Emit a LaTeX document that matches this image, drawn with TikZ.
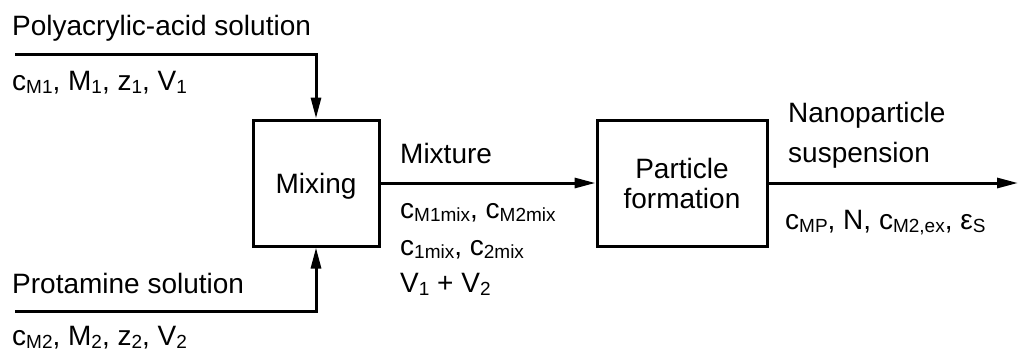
\documentclass[tikz,border=0pt]{standalone}
\usepackage{fontspec}
\setmainfont{Liberation Sans}
\usetikzlibrary{arrows.meta, positioning}

% lowered, smaller index as in the printed labels
\newcommand{\idx}[1]{\raisebox{-3.5pt}{\fontsize{19}{19}\selectfont #1}}

\begin{document}
\begin{tikzpicture}[
  x=1pt, y=-1pt,
  blk/.style={draw, line width=3pt, minimum width=126pt, minimum height=126pt,
              inner sep=0pt, align=center, text depth=0pt,
              font=\fontsize{28}{30}\selectfont},
  txt/.style={anchor=base west, inner sep=0pt, font=\fontsize{28}{30}\selectfont},
  flow/.style={->, line width=3pt},
  >={Triangle[length=21pt, width=10pt]}]
\useasboundingbox (0,0) rectangle (1018,354);

\node[blk] (mix) at (316,183) {Mixing};
\node[blk, minimum width=170pt] (form) at (682,183) {Particle\\formation};

\coordinate (paa) at (15,54);
\coordinate (prot) at (15,311);
\coordinate (out) at (1018,183);

\draw[flow] (paa) -| (mix.north);
\draw[flow] (prot) -| (mix.south);
\draw[flow] (mix) -- (form);
\draw[flow] (form) -- (out);

% stream names and their quantities (multi-line nodes sit on their last line)
\node[txt] (paaname) at (12,35) {Polyacrylic-acid solution};
\node[txt] (paavars) at (12,90) {c\idx{M1}, M\idx{1}, z\idx{1}, V\idx{1}};
\node[txt] (protname) at (12,293) {Protamine solution};
\node[txt] (protvars) at (12,345) {c\idx{M2}, M\idx{2}, z\idx{2}, V\idx{2}};
\node[txt] (mixname) at (400,163) {Mixture};
\node[txt, align=left] (mixvars) at (400,292)
  {c\idx{M1mix}, c\idx{M2mix}\\[7pt]c\idx{1mix}, c\idx{2mix}\\[7pt]V\idx{1} + V\idx{2}};
\node[txt, align=left] (susname) at (788,162) {Nanoparticle\\[10pt]suspension};
\node[txt] (susvars) at (785,229) {c\idx{MP}, N, c\idx{M2,ex}, ε\idx{S}};
\end{tikzpicture}
\end{document}
